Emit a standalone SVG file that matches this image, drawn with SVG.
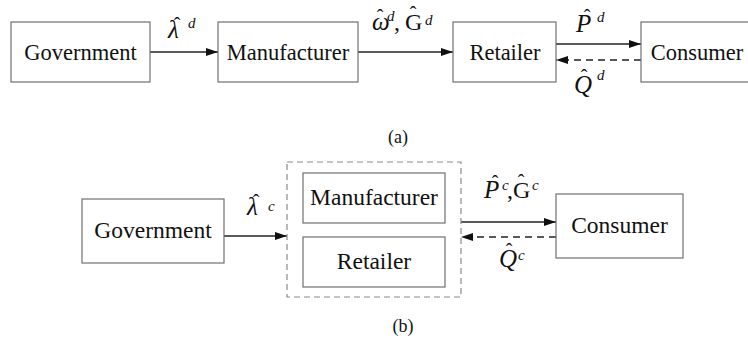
<svg xmlns="http://www.w3.org/2000/svg" width="748" height="342" viewBox="0 0 748 342">
<style>
.box{fill:#fff;stroke:#707070;stroke-width:1.2}
.dbox{fill:none;stroke:#8a8a8a;stroke-width:1.2;stroke-dasharray:6 4}
.t{text-anchor:middle}
.top{font-size:22.5px}
.bot{font-size:23.5px}
.m{font-style:italic;font-size:25px}
.mr{font-size:24px}
.sup{font-style:italic;font-size:15px}
.hat{font-size:20px;text-anchor:middle}
.cap{font-size:18px;text-anchor:middle}
.ln{stroke:#222;stroke-width:1.5;fill:none}
.dl{stroke:#222;stroke-width:1.5;fill:none;stroke-dasharray:7 5}
</style>
<defs>
<marker id="ah" markerUnits="userSpaceOnUse" markerWidth="12" markerHeight="10" viewBox="0 0 12 10" refX="12" refY="5" orient="auto">
<path d="M0,1 L12,5 L0,9 Z" fill="#111"/>
</marker>
</defs>

<g id="connectors">
<line class="ln" x1="150" y1="52" x2="218" y2="52" marker-end="url(#ah)"/>
<line class="ln" x1="358" y1="52" x2="453" y2="52" marker-end="url(#ah)"/>
<line class="ln" x1="556" y1="44" x2="641" y2="44" marker-end="url(#ah)"/>
<line class="dl" x1="641" y1="60" x2="556" y2="60" marker-end="url(#ah)"/>
<line class="ln" x1="224" y1="236" x2="287" y2="236" marker-end="url(#ah)"/>
<line class="ln" x1="461" y1="222" x2="556" y2="222" marker-end="url(#ah)"/>
<line class="dl" x1="556" y1="237" x2="461" y2="237" marker-end="url(#ah)"/>
</g>

<g font-family="Liberation Serif, Times New Roman, DejaVu Serif, serif" fill="#111">
<g id="labels">
<text class="m" x="168" y="38">λ</text><text class="hat" x="177" y="32">ˆ</text><text class="sup" x="188" y="28">d</text>
<text class="m" x="372" y="30">ω</text><text class="hat" x="380" y="24">ˆ</text><text class="sup" x="387" y="21">d</text>
<text class="mr" x="394" y="30">,</text>
<text class="mr" x="405" y="30">G</text><text class="hat" x="413" y="21">ˆ</text><text class="sup" x="425" y="25">d</text>
<text class="m" x="576" y="32">P</text><text class="hat" x="587" y="24">ˆ</text><text class="sup" x="597" y="22">d</text>
<text class="m" x="574" y="93">Q</text><text class="hat" x="584" y="84">ˆ</text><text class="sup" x="597" y="80">d</text>

<text class="m" x="247" y="215">λ</text><text class="hat" x="256" y="209">ˆ</text><text class="sup" x="268" y="211">c</text>
<text class="m" x="484" y="198">P</text><text class="hat" x="495" y="190">ˆ</text><text class="sup" x="502" y="190">c</text>
<text class="mr" x="507" y="198">,</text>
<text class="mr" x="513" y="198">G</text><text class="hat" x="521" y="189">ˆ</text><text class="sup" x="532" y="190">c</text>
<text class="m" x="499" y="267">Q</text><text class="hat" x="509" y="258">ˆ</text><text class="sup" x="518" y="260">c</text>
</g>

<g id="government-a"><rect class="box" x="11" y="22" width="139" height="60"/><text class="t top" x="80.5" y="60">Government</text></g>
<g id="manufacturer-a"><rect class="box" x="218" y="22" width="140" height="60"/><text class="t top" x="288" y="60">Manufacturer</text></g>
<g id="retailer-a"><rect class="box" x="453" y="22" width="103" height="60"/><text class="t top" x="505" y="60">Retailer</text></g>
<g id="consumer-a"><rect class="box" x="641" y="22" width="112" height="60"/><text class="t top" x="697" y="60">Consumer</text></g>

<g id="government-b"><rect class="box" x="82" y="199" width="142" height="64"/><text class="t bot" x="153" y="238">Government</text></g>
<g id="integrated-b"><rect class="dbox" x="287" y="162" width="174" height="135"/></g>
<g id="manufacturer-b"><rect class="box" x="303" y="173" width="142" height="50"/><text class="t bot" x="374" y="205">Manufacturer</text></g>
<g id="retailer-b"><rect class="box" x="303" y="237" width="142" height="50"/><text class="t bot" x="374" y="269">Retailer</text></g>
<g id="consumer-b"><rect class="box" x="556" y="194" width="127" height="64"/><text class="t bot" x="619.5" y="233">Consumer</text></g>

<text class="cap" x="398" y="143">(a)</text>
<text class="cap" x="403" y="332">(b)</text>
</g>
</svg>
